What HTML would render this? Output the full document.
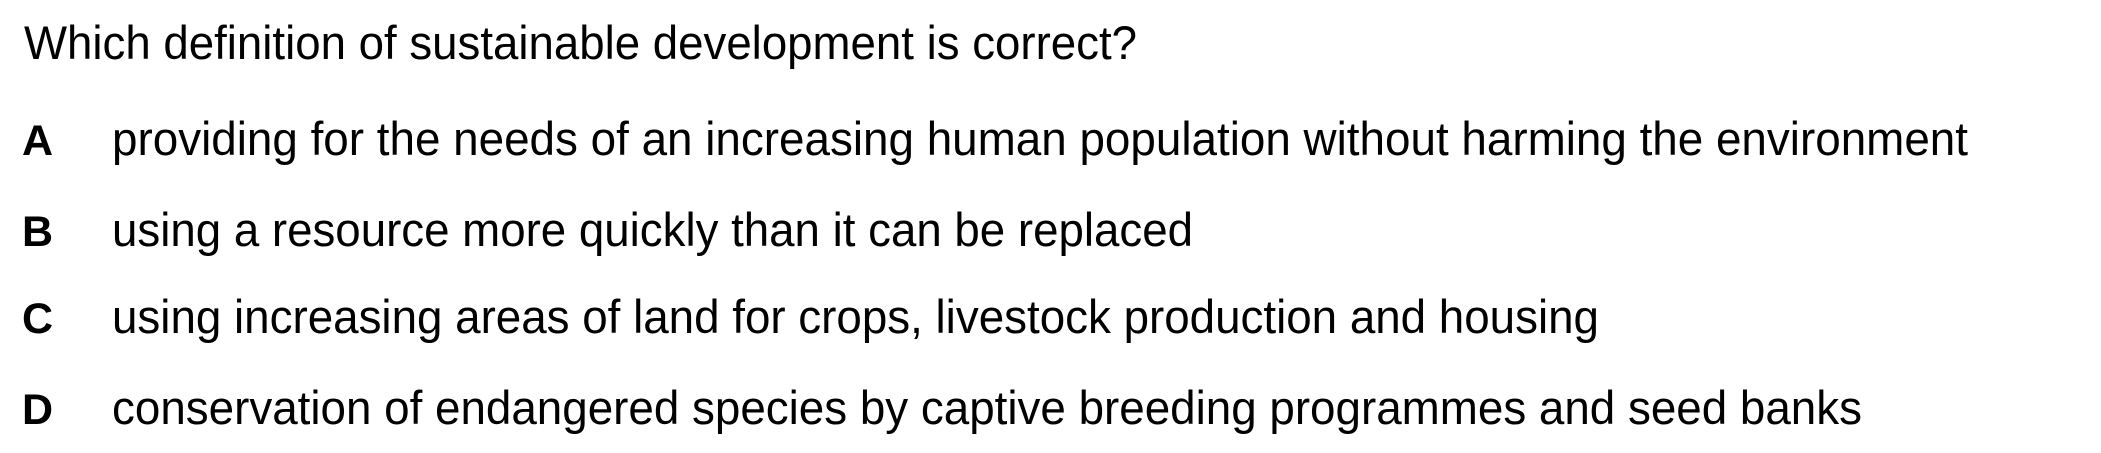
<!DOCTYPE html>
<html><head><meta charset="utf-8"><style>
html,body{margin:0;padding:0;background:#fff;width:2101px;height:453px;overflow:hidden}
svg text{font-family:"Liberation Sans",Arial,sans-serif;font-size:47px;fill:#000}
.l{font-weight:bold;font-size:43px}
</style></head><body>
<svg width="2101" height="453">
<text x="24" y="59" textLength="1113" lengthAdjust="spacingAndGlyphs">Which definition of sustainable development is correct?</text>
<g>
<text class="l" x="22" y="155">A</text>
<text x="112" y="155" textLength="1856" lengthAdjust="spacingAndGlyphs">providing for the needs of an increasing human population without harming the environment</text>
</g>
<g>
<text class="l" x="22" y="246">B</text>
<text x="112" y="246" textLength="1081" lengthAdjust="spacingAndGlyphs">using a resource more quickly than it can be replaced</text>
</g>
<g>
<text class="l" x="22" y="333">C</text>
<text x="112" y="333" textLength="1487" lengthAdjust="spacingAndGlyphs">using increasing areas of land for crops, livestock production and housing</text>
</g>
<g>
<text class="l" x="22" y="424">D</text>
<text x="112" y="424" textLength="1750" lengthAdjust="spacingAndGlyphs">conservation of endangered species by captive breeding programmes and seed banks</text>
</g>
</svg>
</body></html>
